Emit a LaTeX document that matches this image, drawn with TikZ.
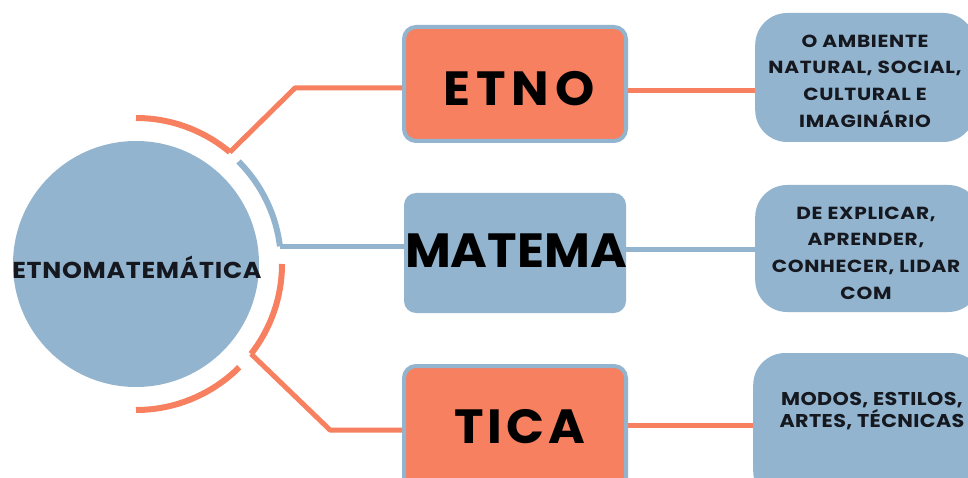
\documentclass[tikz,border=0pt]{standalone}
\usepackage{fontspec}
\setmainfont{Poppins}
\newfontfamily\etnoff{Poppins}[FakeStretch=1.04,LetterSpace=13]
\newfontfamily\matemaff{Poppins}[FakeStretch=1.04]
\newfontfamily\ticaff{Poppins}[FakeStretch=1.04,LetterSpace=8.5]
\newfontfamily\hubff{Poppins}[FakeStretch=1.1,LetterSpace=3]
\newfontfamily\sideff{Poppins}[FakeStretch=1.15,LetterSpace=4]
\newfontfamily\modoff{Poppins}[FakeStretch=1.12,LetterSpace=2]
\definecolor{salmon}{RGB}{247,128,96}
\definecolor{steel}{RGB}{146,180,206}
\definecolor{ink}{RGB}{22,24,32}
\tikzset{
  x=1pt,y=1pt,
  orangeline/.style={draw=salmon,line width=5pt},
  blueline/.style={draw=steel,line width=5pt},
  arcline/.style={line width=6pt},
  midbox/.style={rounded corners=12pt,minimum width=222pt,inner sep=0pt,text=black},
  bigtext/.style={text=black,inner sep=0pt},
  sidebox/.style={fill=steel,rounded corners=32pt,anchor=west,inner sep=0pt},
  sidetext/.style={text=ink,align=center,inner sep=0pt},
}
\begin{document}
\begin{tikzpicture}
\useasboundingbox (0,0) rectangle (968,477);
\fill[white] (0,0) rectangle (968,477);
\clip (0,0) rectangle (968,477);
% central circle
\node[circle,fill=steel,minimum size=246pt,inner sep=0pt] (hub) at (136,213) {};
\node[text=ink,inner sep=0pt,font=\hubff\bfseries\fontsize{23}{24}\selectfont] (hubtxt) at (137,210) {ETNOMATEMÁTICA};
% middle boxes
\node[midbox,fill=salmon,draw=steel,line width=4pt,minimum height=114pt] (etno) at (515,393) {};
\node[bigtext,font=\etnoff\bfseries\fontsize{48}{50}\selectfont] (etnotxt) at (519,388) {ETNO};
\node[midbox,fill=steel,minimum height=120pt] (matema) at (515,224) {};
\node[bigtext,font=\matemaff\bfseries\fontsize{48}{50}\selectfont] (matematxt) at (516,226) {MATEMA};
\node[midbox,fill=salmon,draw=steel,line width=4pt,minimum height=136pt,anchor=north] (ticabox) at (515,113) {};
\node[bigtext,font=\ticaff\bfseries\fontsize{48}{50}\selectfont] (tica) at (520,50) {TICA};
% side boxes
\node[sidebox,minimum width=220pt,minimum height=129pt] (amb) at (755,399.5) {};
\node[sidetext,font=\sideff\bfseries\fontsize{17.5}{26.7}\selectfont] (ambtxt) at (865,396) {O AMBIENTE\\NATURAL, SOCIAL,\\CULTURAL E\\IMAGINÁRIO};
\node[sidebox,minimum width=225pt,minimum height=127pt] (expl) at (755,228.5) {};
\node[sidetext,font=\sideff\bfseries\fontsize{17.5}{26.7}\selectfont] (expltxt) at (866,224) {DE EXPLICAR,\\APRENDER,\\CONHECER, LIDAR\\COM};
\node[sidebox,minimum width=230pt,minimum height=150pt] (modo) at (753,49) {};
\node[sidetext,font=\modoff\bfseries\fontsize{18.5}{20}\selectfont] (modotxt) at (872,66) {MODOS, ESTILOS,\\ARTES, TÉCNICAS};
% arcs around hub
\draw[salmon,arcline] (hub.center) ++(90:146) arc[start angle=90,end angle=50,radius=146] coordinate (a1);
\draw[steel,arcline] (hub.center) ++(45:145) arc[start angle=45,end angle=7,radius=145] coordinate (a2);
\draw[salmon,arcline] (hub.center) ++(0:146) arc[start angle=0,end angle=-38,radius=146] coordinate (a3);
\draw[salmon,arcline] (hub.center) ++(-45:146) arc[start angle=-45,end angle=-90,radius=146];
% left connectors
\coordinate (k1) at (295,389);
\coordinate (k3) at (330,47);
\draw[orangeline,line join=round] (a1) -- (k1) -- (k1 -| etno.west);
\draw[blueline] (a2) -- (a2 -| matema.west);
\draw[orangeline,line join=round] (a3) -- (k3) -- (k3 -| ticabox.west);
% right connectors
\draw[orangeline] (etno.east |- 0,386) -- (amb.west |- 0,386);
\draw[blueline] (matema.east |- 0,228) -- (expl.west |- 0,228);
\draw[orangeline] (ticabox.east |- 0,52) -- (modo.west |- 0,52);
\end{tikzpicture}
\end{document}
